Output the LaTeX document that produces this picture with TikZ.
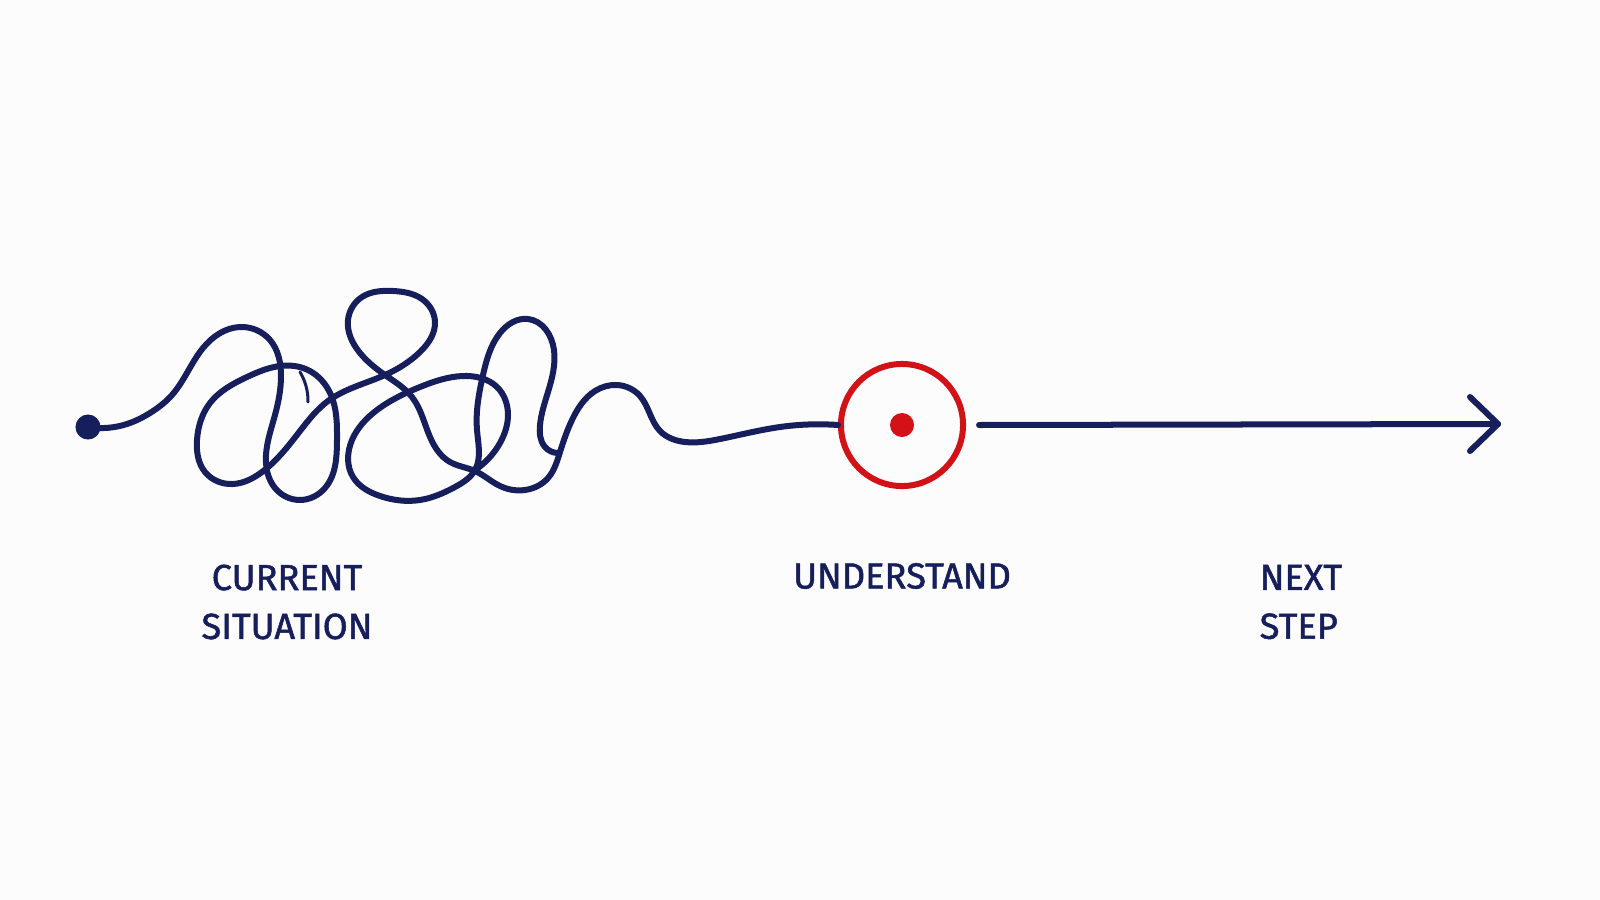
\documentclass[tikz,border=0pt]{standalone}
\usepackage{fontspec}
\setmainfont[FakeBold=1.4,AutoFakeBold=1.4]{Fira Sans}
\usetikzlibrary{calc,hobby}
\definecolor{navy}{RGB}{22,30,92}
\definecolor{redc}{RGB}{210,18,22}
\definecolor{bg}{RGB}{252,252,253}
\begin{document}
\begin{tikzpicture}[x=0.01cm,y=-0.01cm,
  ink/.style={draw=navy,line width=0.06cm,line cap=round,line join=round},
  lbl/.style={text=navy,font=\fontsize{10.3}{13.9}\selectfont\bfseries,inner sep=0pt}]
\fill[bg] (0,0) rectangle (1600,900);
\useasboundingbox (0,0) rectangle (1600,900);
% start dot and goal
\node[circle,fill=navy,minimum size=0.25cm,inner sep=0pt] (start) at (88,427) {};
\node[circle,draw=redc,line width=0.06cm,minimum size=1.22cm,inner sep=0pt] (goal) at (902,425) {};
\node[circle,fill=redc,minimum size=0.24cm,inner sep=0pt] (core) at (902,425) {};
\coordinate (tip) at (1498,424);
% tangled line
\draw[ink,use Hobby shortcut] (start.center) .. (127,424) .. (150,413) .. (172,395) .. (203,348) .. (240,327) .. (270,340) .. (281,375) .. (275,415) .. (266,455) .. (275,488) .. (300,500) .. (325,488) .. (337,440) .. (331,395) .. (308,370) .. (280,366) .. (247,377) .. (210,403) .. (197,440) .. (205,472) .. (233,484) .. (262,472) .. (300,431) .. (328,401) .. (385,375) .. (420,352) .. (435,322) .. (422,299) .. (393,291) .. (362,297) .. (348,320) .. (360,353) .. (385,375) .. (412,397) .. (430,437) .. (450,462) .. (475,471) .. (500,486) .. (525,490) .. (548,478) .. (560,452) .. (572,420) .. (595,391) .. (617,385) .. (640,396) .. (660,431) .. (685,442) .. (720,439) .. (780,427) .. (goal.west);
\draw[ink,use Hobby shortcut] (558,453) .. (545,447) .. (540,425) .. (548,392) .. (554,350) .. (528,319) .. (500,333) .. (483,375) .. (477,430) .. (475,470) .. (455,487) .. (420,500) .. (380,496) .. (353,477) .. (352,440) .. (377,410) .. (420,387) .. (463,376) .. (497,387) .. (508,415) .. (500,443) .. (475,470);
\draw[draw=navy,line width=0.03cm,line cap=round,use Hobby shortcut] (300,372) .. (306,386) .. (308,402);
% arrow
\draw[ink] ([xshift=0.13cm]goal.east) -- (tip);
\draw[ink] ($(tip)+(-28,-27)$) -- (tip) -- ($(tip)+(-28,27)$);
% labels
\node[lbl,align=center] (cur) at (287,602) {CURRENT\\SITUATION};
\node[lbl] (und) at (902,576) {UNDERSTAND};
\node[lbl,align=left,anchor=west] (nxt) at (1259,602) {NEXT\\STEP};
\end{tikzpicture}
\end{document}
